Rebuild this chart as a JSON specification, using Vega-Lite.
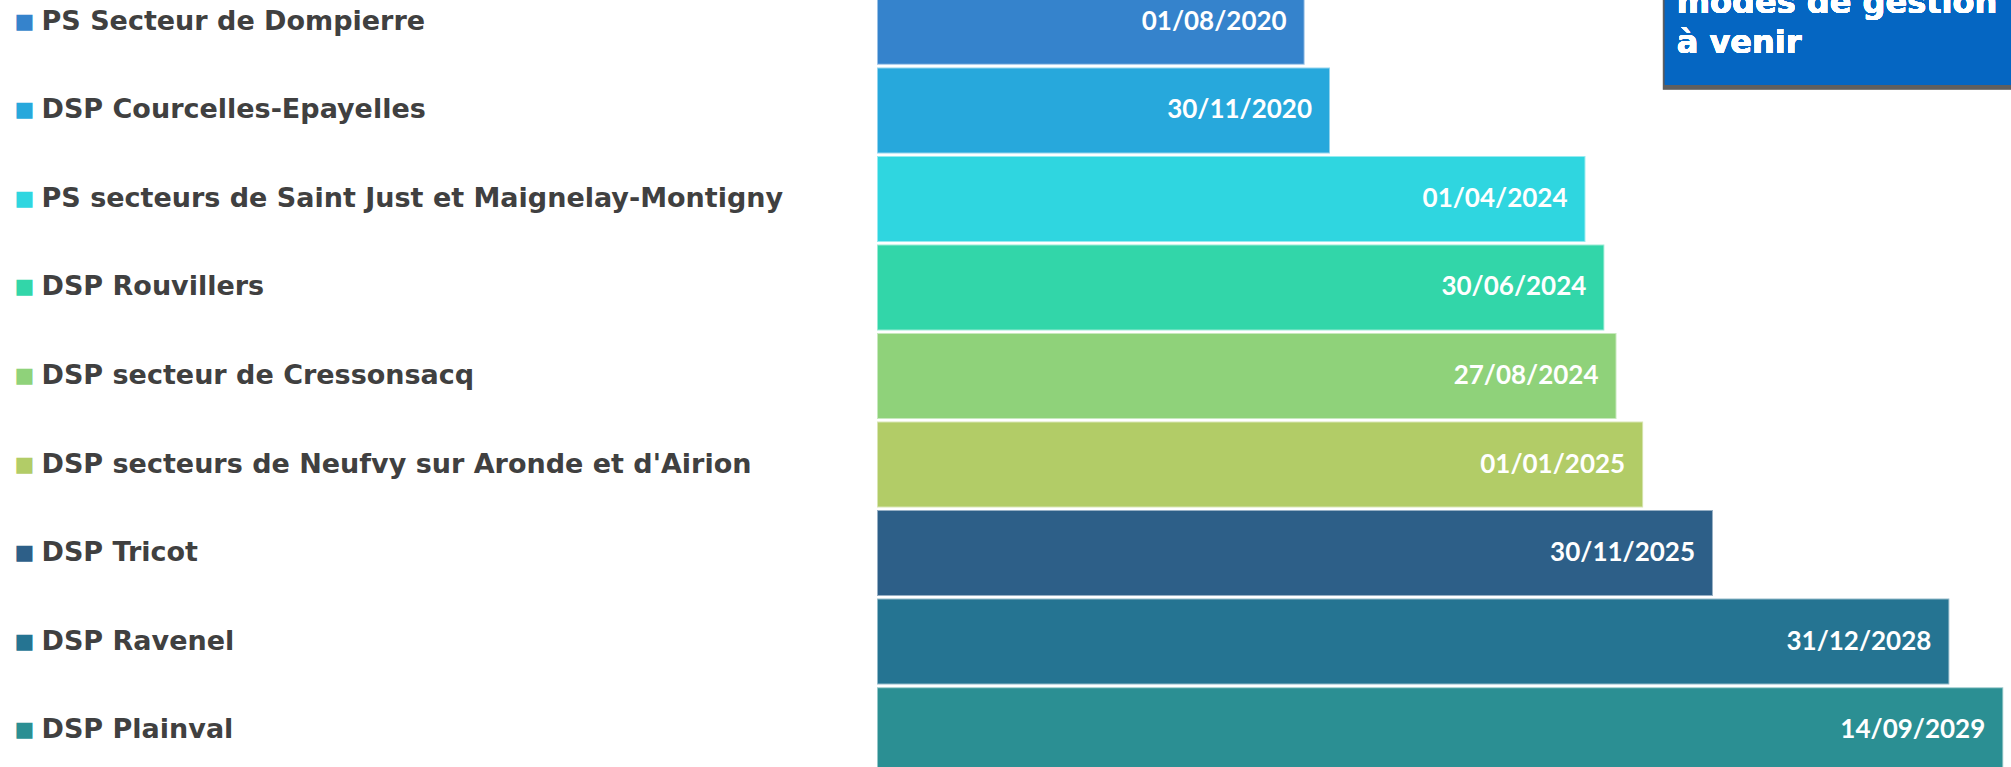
{
  "$schema": "https://vega.github.io/schema/vega-lite/v6.json",
  "width": 1134,
  "height": 794,
  "autosize": {"type": "none"},
  "padding": {"left": 877, "top": -21, "right": 0, "bottom": -6},
  "background": "white",
  "config": {"view": {"stroke": null}},
  "data": {
    "values": [
      {"site": "PS Secteur de Dompierre", "fin": "2020-08-01", "label": "01/08/2020"},
      {"site": "DSP Courcelles-Epayelles", "fin": "2020-11-30", "label": "30/11/2020"},
      {"site": "PS secteurs de Saint Just et Maignelay-Montigny", "fin": "2024-04-01", "label": "01/04/2024"},
      {"site": "DSP Rouvillers", "fin": "2024-06-30", "label": "30/06/2024"},
      {"site": "DSP secteur de Cressonsacq", "fin": "2024-08-27", "label": "27/08/2024"},
      {"site": "DSP secteurs de Neufvy sur Aronde et d'Airion", "fin": "2025-01-01", "label": "01/01/2025"},
      {"site": "DSP Tricot", "fin": "2025-11-30", "label": "30/11/2025"},
      {"site": "DSP Ravenel", "fin": "2028-12-31", "label": "31/12/2028"},
      {"site": "DSP Plainval", "fin": "2029-09-14", "label": "14/09/2029"}
    ]
  },
  "layer": [
    {
      "mark": {"type": "bar", "stroke": "white", "strokeOpacity": 0.5, "strokeWidth": 2},
      "encoding": {
        "x": {
          "field": "fin", "type": "temporal",
          "scale": {"domain": [{"year": 2015, "month": 1, "date": 1}, {"year": 2029, "month": 10, "date": 21}]},
          "axis": null
        },
        "x2": {"datum": {"year": 2015, "month": 1, "date": 1}},
        "y": {
          "field": "site", "type": "nominal", "sort": null,
          "scale": {
            "domain": ["PS Secteur de Dompierre", "DSP Courcelles-Epayelles", "PS secteurs de Saint Just et Maignelay-Montigny", "DSP Rouvillers", "DSP secteur de Cressonsacq", "DSP secteurs de Neufvy sur Aronde et d'Airion", "DSP Tricot", "DSP Ravenel", "DSP Plainval"],
            "paddingInner": 0.03, "paddingOuter": 0
          },
          "axis": {
            "orient": "left", "title": null, "domain": false, "ticks": false, "grid": false,
            "labelAlign": "left", "labelBaseline": "middle", "labelPadding": 836,
            "labelFont": "DejaVu Sans", "labelFontWeight": "bold", "labelFontSize": 27,
            "labelColor": "#404040", "labelLimit": 1000
          }
        },
        "color": {
          "field": "site", "type": "nominal",
          "scale": {
            "domain": ["PS Secteur de Dompierre", "DSP Courcelles-Epayelles", "PS secteurs de Saint Just et Maignelay-Montigny", "DSP Rouvillers", "DSP secteur de Cressonsacq", "DSP secteurs de Neufvy sur Aronde et d'Airion", "DSP Tricot", "DSP Ravenel", "DSP Plainval"],
            "range": ["#3583CC", "#27A8DC", "#2FD6E0", "#32D6A9", "#8FD27A", "#B2CC67", "#2D5F88", "#257492", "#2B8F93"]
          },
          "legend": null
        }
      }
    },
    {
      "mark": {"type": "text", "align": "right", "baseline": "middle", "dx": -18, "color": "white", "font": "Lato", "fontWeight": "bold", "fontSize": 26},
      "encoding": {
        "x": {"field": "fin", "type": "temporal"},
        "y": {
          "field": "site", "type": "nominal", "sort": null,
          "axis": {
            "orient": "left", "title": null, "domain": false, "ticks": false, "grid": false,
            "labelAlign": "left", "labelBaseline": "middle", "labelPadding": 863,
            "labelExpr": "'■'", "labelFont": "DejaVu Sans", "labelFontSize": 21,
            "labelColor": {"expr": "scale('color', datum.value)"}
          }
        },
        "text": {"field": "label"}
      }
    },
    {
      "mark": {"type": "rect", "color": "#000000", "opacity": 0.1, "clip": true},
      "encoding": {
        "x": {"datum": {"year": 2025, "month": 4, "date": 5}},
        "x2": {"datum": {"year": 2031, "month": 1, "date": 1}},
        "y": {"datum": "PS Secteur de Dompierre", "bandPosition": 0, "axis": null},
        "y2": {"datum": "DSP Courcelles-Epayelles", "bandPosition": 0.26}
      }
    },
    {
      "mark": {"type": "rect", "color": "#0566C2", "clip": true},
      "encoding": {
        "x": {"datum": {"year": 2025, "month": 4, "date": 15}},
        "x2": {"datum": {"year": 2031, "month": 1, "date": 1}},
        "y": {"datum": "PS Secteur de Dompierre", "bandPosition": 0, "axis": null},
        "y2": {"datum": "DSP Courcelles-Epayelles", "bandPosition": 0.2}
      }
    },
    {
      "mark": {"type": "text", "align": "left", "baseline": "alphabetic", "dy": -9, "lineHeight": 40, "color": "white", "font": "DejaVu Sans", "fontWeight": "bold", "fontSize": 32},
      "encoding": {
        "x": {"datum": {"year": 2025, "month": 6, "date": 10}},
        "y": {"datum": "PS Secteur de Dompierre", "axis": null},
        "text": {"value": ["modes de gestion", "à venir"]}
      }
    }
  ],
  "resolve": {"axis": {"y": "independent"}}
}
